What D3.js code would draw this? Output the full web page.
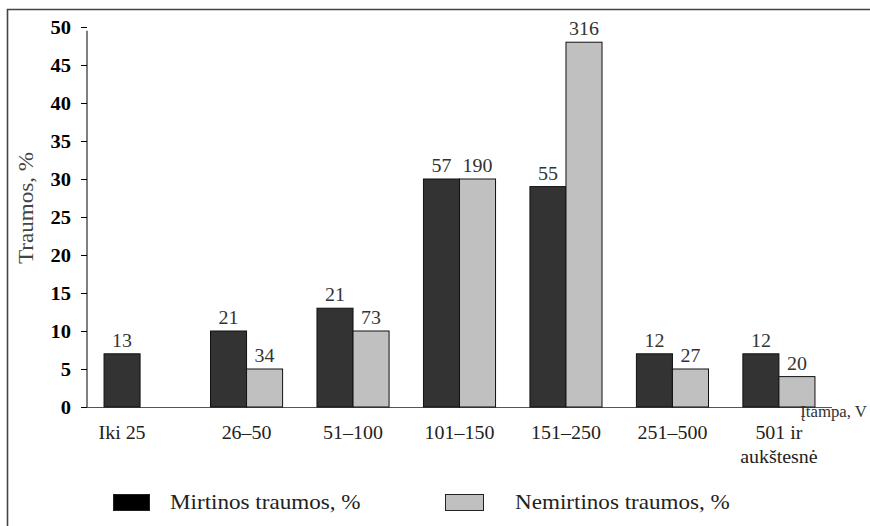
<!DOCTYPE html>
<html>
<head>
<meta charset="utf-8">
<script src="https://cdn.jsdelivr.net/npm/d3@7"></script>
<style>
  body { margin: 0; background: #fff; }
  text { font-family: "Liberation Serif", "Times New Roman", serif; }
</style>
</head>
<body>
<div id="chart"></div>
<script>
// categories (voltage ranges)
const categories = ["Iki 25", "26–50", "51–100", "101–150", "151–250", "251–500", "501 ir\naukštesnė"];
// percentages
const mortal = [7, 10, 13, 30, 29, 7, 7];
const nonMortal = [null, 5, 10, 30, 48, 5, 4];
// absolute counts shown above bars
const mortalCounts = [13, 21, 21, 57, 55, 12, 12];
const nonMortalCounts = [null, 34, 73, 190, 316, 27, 20];
const yTicks = [0, 5, 10, 15, 20, 25, 30, 35, 40, 45, 50];
const seriesNames = ["Mirtinos traumos, %", "Nemirtinos traumos, %"];

const width = 870, height = 526;
const darkFill = "#333333", lightFill = "#c0c0c0";

const svg = d3.select("#chart").append("svg")
  .attr("width", width).attr("height", height);

// frame: only the left and top edges show
svg.append("path")
  .attr("d", "M7.5,530V9.5H872")
  .attr("fill", "none").attr("stroke", "#444").attr("stroke-width", 1.6);

// plot area
const x0 = 87, x1 = 832, yTop = 27, yBottom = 407;

const x = d3.scaleBand()
  .domain(d3.range(categories.length))
  .range([x0, x1])
  .paddingInner(0.323)
  .paddingOuter(0.16);

const xSub = d3.scaleBand().domain([0, 1]).range([0, x.bandwidth()]);

const y = d3.scaleLinear().domain([0, 50]).range([yBottom, yTop]);

// the scanned text is a bit wider than the font, stretch it horizontally
function stretchedText(parent, px, py, sx, rot) {
  return parent.append("text")
    .attr("transform", `translate(${px},${py})${rot ? ` rotate(${rot})` : ""} scale(${sx},1)`);
}

// y axis
const yAxis = svg.append("g")
  .attr("transform", `translate(${x0},0)`)
  .call(d3.axisLeft(y).tickValues(yTicks).tickSize(6).tickPadding(10));
yAxis.select(".domain").attr("d", `M0,${yBottom}V${y(49.5)}`).attr("stroke", "#000");
yAxis.selectAll(".tick line").attr("stroke", "#000");
yAxis.selectAll(".tick text")
  .style("font-family", "'Liberation Serif', serif")
  .style("font-size", "19px")
  .style("font-weight", "bold")
  .attr("fill", "#000")
  .attr("transform", "scale(1.08,1)")
  .attr("x", -16 / 1.08);

// x axis baseline
svg.append("line")
  .attr("x1", x0).attr("x2", x1)
  .attr("y1", yBottom + 0.5).attr("y2", yBottom + 0.5)
  .attr("stroke", "#555").attr("stroke-width", 1);

// bars
const groups = svg.append("g").selectAll("g")
  .data(categories.map((c, i) => i))
  .join("g")
  .attr("transform", i => `translate(${x(i)},0)`);

const series = [
  { vals: mortal, counts: mortalCounts, fill: darkFill },
  { vals: nonMortal, counts: nonMortalCounts, fill: lightFill }
];

series.forEach((s, si) => {
  groups.filter(i => s.vals[i] != null)
    .append("rect")
    .attr("x", xSub(si))
    .attr("y", i => y(s.vals[i]))
    .attr("width", xSub.bandwidth())
    .attr("height", i => y(0) - y(s.vals[i]))
    .attr("fill", s.fill)
    .attr("stroke", "#111")
    .attr("stroke-width", 1);

  groups.filter(i => s.counts[i] != null)
    .append("text")
    .attr("transform", i => `translate(${xSub(si) + xSub.bandwidth() / 2},${y(s.vals[i]) - 7}) scale(1.05,1)`)
    .attr("text-anchor", "middle")
    .attr("fill", "#333")
    .style("font-size", "19px")
    .text(i => s.counts[i]);
});

// category labels, single-bar group is centred on its bar
categories.forEach((c, i) => {
  const cx = nonMortal[i] == null
    ? x(i) + xSub(0) + xSub.bandwidth() / 2
    : x(i) + x.bandwidth() / 2;
  const lines = c.split("\n");
  lines.forEach((ln, k) => {
    stretchedText(svg, cx, 439 + k * 24, 1.05)
      .attr("text-anchor", "middle")
      .attr("fill", "#222")
      .style("font-size", "19px")
      .text(ln);
  });
});

// x axis title
stretchedText(svg, 867, 417, 1.05)
  .attr("text-anchor", "end")
  .attr("fill", "#333")
  .style("font-size", "16px")
  .text("Įtampa, V");

// y axis title
stretchedText(svg, 33, 208, 1.1, -90)
  .attr("text-anchor", "middle")
  .attr("fill", "#444")
  .style("font-size", "21px")
  .text("Traumos, %");

// legend
const legend = [
  { name: seriesNames[0], fill: "#000", sx: 113, sw: 36, tx: 170 },
  { name: seriesNames[1], fill: lightFill, sx: 445, sw: 38, tx: 515 }
];
legend.forEach(l => {
  svg.append("rect")
    .attr("x", l.sx + 0.5).attr("y", 494.5)
    .attr("width", l.sw).attr("height", 16)
    .attr("fill", l.fill).attr("stroke", "#222").attr("stroke-width", 1);
  stretchedText(svg, l.tx, 509, 1.1)
    .attr("fill", "#222")
    .style("font-size", "21px")
    .text(l.name);
});
</script>
</body>
</html>
